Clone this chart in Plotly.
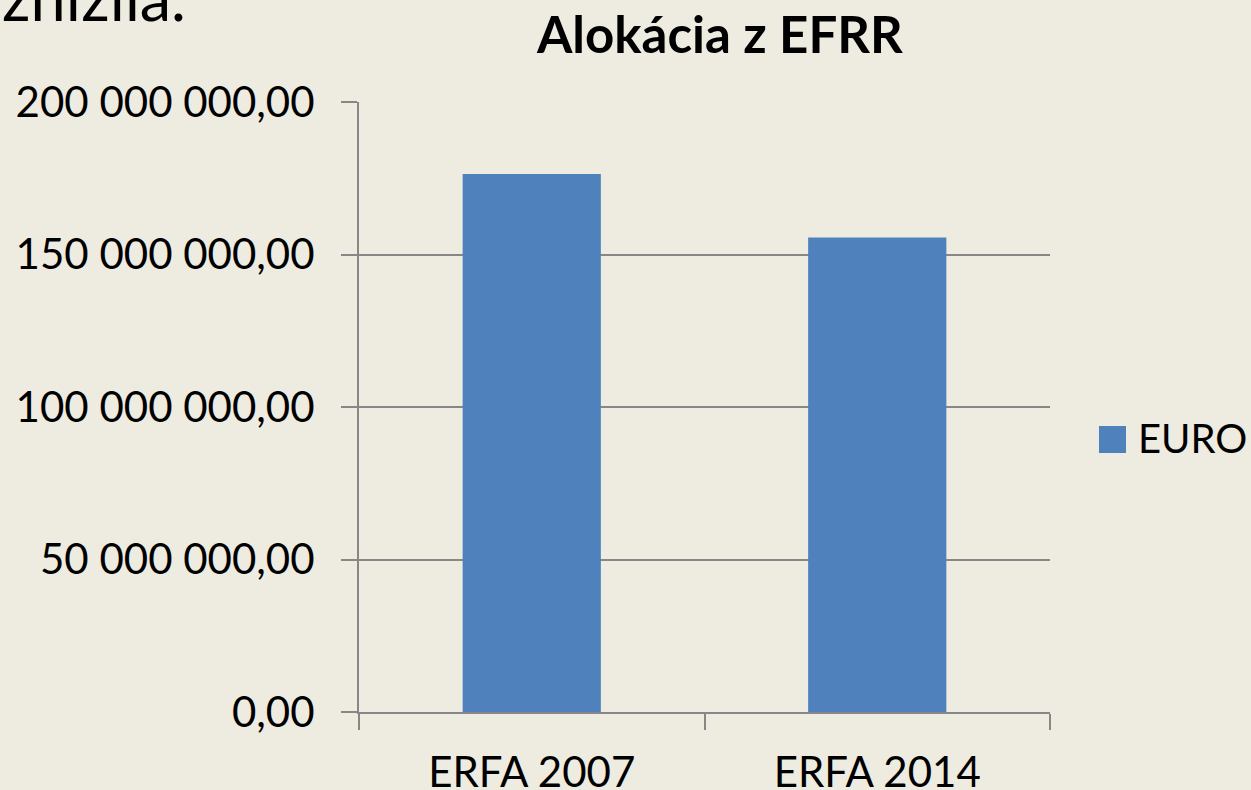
import plotly.graph_objects as go

categories = ["ERFA 2007", "ERFA 2014"]
euro_values = [176400000, 155600000]
tick_values = [0, 50000000, 100000000, 150000000, 200000000]
tick_labels = ["0,00", "50 000 000,00", "100 000 000,00", "150 000 000,00", "200 000 000,00"]
series_name = "EURO"
title_text = "Alokácia z EFRR"
slide_text = "znížila."

BG = "#EEEBE0"
BAR = "#4F81BD"
GRID = "#878787"
FONT = "Lato"

W, H = 1251, 790
L, R, T, B = 359, 201, 102, 78
pw, ph = W - L - R, H - T - B

fig = go.Figure()
fig.add_trace(go.Bar(x=categories, y=euro_values, name=series_name,
                     marker=dict(color=BAR, line=dict(width=0)),
                     showlegend=False))

fig.update_layout(
    width=W, height=H, autosize=False,
    paper_bgcolor=BG, plot_bgcolor=BG,
    margin=dict(l=L, r=R, t=T, b=B, pad=0, autoexpand=False),
    bargap=0.6,
    font=dict(family=FONT, color="#000000", size=42),
    xaxis=dict(type="category", showgrid=False, showline=True, linecolor=GRID, linewidth=2,
               ticks="outside", tickson="boundaries", ticklen=16, tickcolor=GRID, tickwidth=2,
               ticklabelstandoff=23, automargin=False,
               tickfont=dict(size=42, family=FONT), zeroline=False),
    yaxis=dict(range=[0, 200000000], tickvals=tick_values, ticktext=tick_labels,
               showgrid=True, gridcolor=GRID, gridwidth=2,
               showline=True, linecolor=GRID, linewidth=2,
               ticks="outside", ticklen=16, tickcolor=GRID, tickwidth=2,
               ticklabelstandoff=18, automargin=False,
               tickfont=dict(size=42, family=FONT), zeroline=False),
)

# title
fig.add_annotation(text="<b>" + title_text + "</b>", xref="paper", yref="paper",
                   x=(719 - L) / pw, y=1 + (T - 33) / ph,
                   xanchor="center", yanchor="middle", showarrow=False,
                   font=dict(size=51, family=FONT, color="#000000"))
# slide text cut off at top
fig.add_annotation(text=slide_text, xref="paper", yref="paper",
                   x=(0 - L) / pw, y=1 + (T + 3) / ph,
                   xanchor="left", yanchor="middle", showarrow=False,
                   font=dict(size=63, family=FONT, color="#000000"))
# legend
fig.add_shape(type="rect", xref="paper", yref="paper",
              x0=(1099 - L) / pw, x1=(1126 - L) / pw,
              y0=1 - (453 - T) / ph, y1=1 - (426 - T) / ph,
              fillcolor=BAR, line=dict(width=0))
fig.add_annotation(text=series_name, xref="paper", yref="paper",
                   x=(1136 - L) / pw, y=1 - (438 - T) / ph,
                   xanchor="left", yanchor="middle", showarrow=False,
                   font=dict(size=40, family=FONT, color="#000000"))

fig.write_html("out.html", config={"displayModeBar": False},
               post_script="document.body.style.margin='0px';document.body.style.overflow='hidden';")
